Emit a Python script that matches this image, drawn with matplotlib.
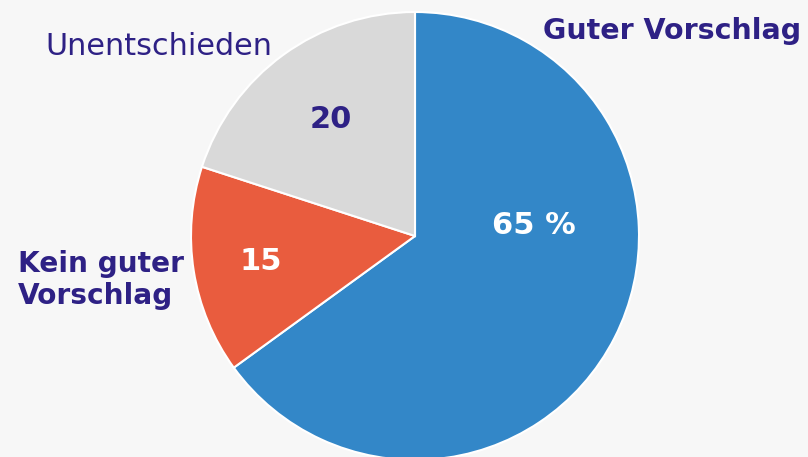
import matplotlib.pyplot as plt

labels = ['Guter Vorschlag', 'Kein guter\nVorschlag', 'Unentschieden']
values = [65, 15, 20]
value_texts = ['65 %', '15', '20']
colors = ['#3387c8', '#e95c3e', '#d9d9d9']

bg = '#f7f7f7'
ink = '#2e2185'

fig = plt.figure(figsize=(8.08, 4.57), dpi=100, facecolor=bg)
ax = fig.add_axes([0, 0, 1, 1])
ax.set_facecolor(bg)
ax.axis('off')

ax.pie(values, colors=colors, startangle=90, counterclock=False,
       center=(415, 221), radius=224,
       wedgeprops=dict(edgecolor='white', linewidth=1.5))
ax.set_xlim(0, 808)
ax.set_ylim(0, 457)
ax.set_aspect('equal')

font = 'DejaVu Sans'
# category labels (y given as baseline)
ax.text(801, 418, labels[0], ha='right', va='baseline', fontsize=20.5,
        fontweight='bold', color=ink, family=font)
for i, line in enumerate(labels[1].split('\n')):
    ax.text(18, 185 - 32 * i, line, ha='left', va='baseline', fontsize=20.2,
            fontweight='bold', color=ink, family=font)
ax.text(159, 402, labels[2], ha='center', va='baseline', fontsize=21.8,
        color=ink, family=font)

# value labels
ax.text(534, 231, value_texts[0], ha='center', va='center', fontsize=22,
        fontweight='bold', color='white', family=font)
ax.text(261, 196, value_texts[1], ha='center', va='center', fontsize=22,
        fontweight='bold', color='white', family=font)
ax.text(331, 338, value_texts[2], ha='center', va='center', fontsize=22,
        fontweight='bold', color=ink, family=font)

fig.savefig('out.png', dpi=100, facecolor=bg)
